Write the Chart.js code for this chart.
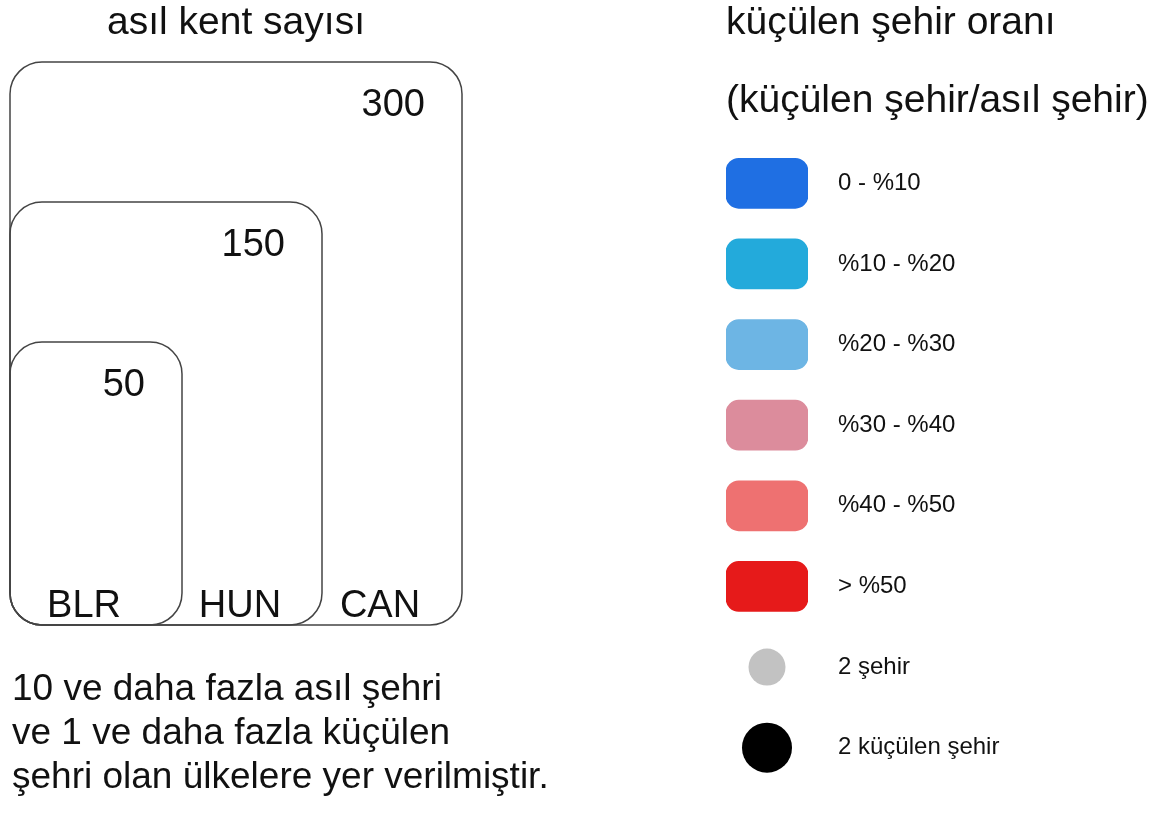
<!DOCTYPE html>
<html>
<head>
<meta charset="utf-8">
<script src="https://cdn.jsdelivr.net/npm/chart.js@4.4.1/dist/chart.umd.min.js"></script>
<style>
  html, body { margin: 0; padding: 0; background: #fff; }
  body { width: 1161px; height: 816px; position: relative; overflow: hidden; }
  #kutular { position: absolute; left: 0; top: 0; }
  #lejant { position: absolute; left: 700px; top: 0; }
</style>
</head>
<body>
<canvas id="kutular" width="640" height="816"></canvas>
<canvas id="lejant" width="461" height="816"></canvas>
<script>
// ülkeler ve asıl kent sayıları
var ulkeler = ["BLR", "HUN", "CAN"];
var asilKent = [50, 150, 300];
// lejant
var oranEtiketleri = ["0 - %10", "%10 - %20", "%20 - %30", "%30 - %40", "%40 - %50", "> %50"];
var oranRenkleri = ["#1f6fe3", "#23aadb", "#6db5e4", "#dc8c9c", "#ee7171", "#e61a1a"];
var noktaEtiketleri = ["2 şehir", "2 küçülen şehir"];
var noktaRenkleri = ["#c2c2c2", "#000000"];
var notSatirlari = ["10 ve daha fazla asıl şehri", "ve 1 ve daha fazla küçülen", "şehri olan ülkelere yer verilmiştir."];

var yazi = "'Liberation Sans', Arial, sans-serif";
Chart.defaults.font.family = yazi;
Chart.defaults.color = "#111";

//Kutuları ve notu çiz
var kutuPlugin = {
    id: "kutular",
    afterDatasetsDraw(chart) {
        var ctx = chart.ctx;
        var area = chart.chartArea;
        var meta = chart.getDatasetMeta(0);
        ctx.save();
        ctx.strokeStyle = "#444";
        ctx.lineWidth = 1.5;
        ctx.fillStyle = "#111";
        ctx.font = "38px " + yazi;
        ctx.textBaseline = "alphabetic";
        var solda = area.left;
        meta.data.forEach((p, i) => {
            ctx.beginPath();
            ctx.roundRect(area.left, p.y, p.x - area.left, area.bottom - p.y, 32);
            ctx.stroke();
            ctx.textAlign = "right";
            ctx.fillText(asilKent[i], p.x - 37, p.y + 54);
            ctx.textAlign = "center";
            ctx.fillText(ulkeler[i], (solda + p.x) / 2 - 12, area.bottom - 8);
            solda = p.x;
        });
        // not
        ctx.textAlign = "left";
        ctx.font = "37px " + yazi;
        notSatirlari.forEach((s, i) => {
            ctx.fillText(s, area.left + 2, area.bottom + 75 + i * 44);
        });
        ctx.restore();
    }
};

new Chart(document.getElementById("kutular"), {
    type: "scatter",
    data: {
        datasets: [{
            data: ulkeler.map((u, i) => ({ x: i + 1, y: i + 1 })),
            pointRadius: 0
        }]
    },
    options: {
        responsive: false,
        animation: false,
        layout: { autoPadding: false, padding: { left: 10, right: 178, top: 0, bottom: 191 } },
        scales: {
            x: { display: false, min: -0.2286, max: 3 },
            y: { display: false, min: -1.02, max: 3 }
        },
        plugins: {
            legend: { display: false },
            tooltip: { enabled: false },
            title: {
                display: true,
                text: "asıl kent sayısı",
                font: { size: 39, weight: "normal", lineHeight: 1.2 },
                padding: { top: 0, bottom: 15.2 },
                color: "#111"
            }
        }
    },
    plugins: [kutuPlugin]
});

//Lejant
var tumEtiketler = oranEtiketleri.concat(noktaEtiketleri);
new Chart(document.getElementById("lejant"), {
    type: "bar",
    data: {
        labels: tumEtiketler,
        datasets: [{
            type: "bar",
            data: oranEtiketleri.map(() => 1),
            backgroundColor: oranRenkleri,
            barThickness: 50,
            borderRadius: 13,
            borderSkipped: false
        }, {
            type: "scatter",
            data: noktaEtiketleri.map(e => ({ x: 0.5, y: e })),
            backgroundColor: noktaRenkleri,
            borderWidth: 0,
            pointRadius: [18.5, 25],
            clip: false
        }]
    },
    options: {
        responsive: false,
        animation: false,
        indexAxis: "y",
        layout: { autoPadding: false, padding: { left: 26, right: 0, top: 0, bottom: 28 } },
        scales: {
            x: { display: false, min: 0, max: 1 },
            y: {
                position: "right",
                grid: { display: false, drawTicks: false },
                border: { display: false },
                ticks: { padding: 30, font: { size: 24 }, color: "#111" },
                afterFit: s => {
                    s.width = 353;
                    s.paddingTop = 0;
                    s.paddingBottom = 0;
                }
            }
        },
        plugins: {
            legend: { display: false },
            tooltip: { enabled: false },
            title: {
                display: true,
                align: "start",
                text: "küçülen şehir oranı",
                font: { size: 39, weight: "normal", lineHeight: 1.2 },
                padding: { top: 0, bottom: 0 },
                color: "#111"
            },
            subtitle: {
                display: true,
                align: "start",
                text: "(küçülen şehir/asıl şehir)",
                font: { size: 39, lineHeight: 1.2 },
                padding: { top: 31, bottom: 18.4 },
                color: "#111"
            }
        }
    }
});
</script>
</body>
</html>
